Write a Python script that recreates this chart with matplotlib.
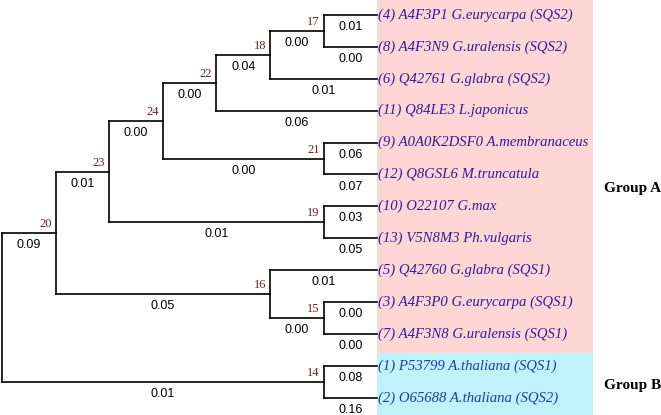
import matplotlib
matplotlib.use("Agg")
import matplotlib.pyplot as plt
from matplotlib.patches import Rectangle

# ---------------- data ----------------
leaf_labels = [
    "(4) A4F3P1 G.eurycarpa (SQS2)",
    "(8) A4F3N9 G.uralensis (SQS2)",
    "(6) Q42761 G.glabra (SQS2)",
    "(11) Q84LE3 L.japonicus",
    "(9) A0A0K2DSF0 A.membranaceus",
    "(12) Q8GSL6 M.truncatula",
    "(10) O22107 G.max",
    "(13) V5N8M3 Ph.vulgaris",
    "(5) Q42760 G.glabra (SQS1)",
    "(3) A4F3P0 G.eurycarpa (SQS1)",
    "(7) A4F3N8 G.uralensis (SQS1)",
    "(1) P53799 A.thaliana (SQS1)",
    "(2) O65688 A.thaliana (SQS2)",
]
leaf_lengths = ["0.01", "0.00", "0.01", "0.06", "0.06", "0.07", "0.03",
                "0.05", "0.01", "0.00", "0.00", "0.08", "0.16"]
leaf_group = ["A"] * 11 + ["B"] * 2

# internal nodes: id -> children (ints = leaf index, strings = node id)
node_ids = ["17", "18", "22", "21", "24", "19", "23", "15", "16", "20", "14", "root"]
node_children = {
    "17": [0, 1],
    "18": ["17", 2],
    "22": ["18", 3],
    "21": [4, 5],
    "24": ["22", "21"],
    "19": [6, 7],
    "23": ["24", "19"],
    "15": [9, 10],
    "16": [8, "15"],
    "20": ["23", "16"],
    "14": [11, 12],
    "root": ["20", "14"],
}
node_lengths = {"17": "0.00", "18": "0.04", "22": "0.00", "21": "0.00",
                "24": "0.00", "19": "0.01", "23": "0.01", "15": "0.00",
                "16": "0.05", "20": "0.09", "14": "0.01"}

groups = ["Group A", "Group B"]
group_colors = {"A": "#FFD6D6", "B": "#BFF2FB"}
label_colors = {"A": "#2B1F9A", "B": "#1F3CAE"}

# ---------------- layout ----------------
height = {}
ypos = {}

def layout(n):
    if isinstance(n, int):
        height[n] = 0
        ypos[n] = float(n)
        return
    for c in node_children[n]:
        layout(c)
    height[n] = 1 + max(height[c] for c in node_children[n])
    ys = [ypos[c] for c in node_children[n]]
    ypos[n] = (min(ys) + max(ys)) / 2

layout("root")
H = height["root"]
xpos = {k: H - v for k, v in height.items()}

# ---------------- figure ----------------
W, Hpx = 661, 415
fig = plt.figure(figsize=(W / 100, Hpx / 100), dpi=100)
ax = fig.add_axes([0, 0, 1, 1])
ax.axis("off")
sx, x0 = 53.6, 2.0
sy, y0 = 31.9, 15.0
ax.set_xlim(-x0 / sx, (W - x0) / sx)
ax.set_ylim((Hpx - y0) / sy, -y0 / sy)

n_leaves = len(leaf_labels)
nA = leaf_group.count("A")
box_right = H + 4.03
# group backgrounds
ax.add_patch(Rectangle((H, -0.5), box_right - H, nA + 0.1,
                       facecolor=group_colors["A"], edgecolor="none", zorder=0))
ax.add_patch(Rectangle((H, nA - 0.4), box_right - H, n_leaves - nA + 0.3,
                       facecolor=group_colors["B"], edgecolor="none", zorder=0))

lw = 1.2
for n in node_ids:
    ch = node_children[n]
    xn = xpos[n]
    ys = [ypos[c] for c in ch]
    ax.plot([xn, xn], [min(ys), max(ys)], color="black", lw=lw,
            solid_capstyle="projecting", zorder=2)
    for c in ch:
        xc, yc = xpos[c], ypos[c]
        ax.plot([xn, xc], [yc, yc], color="black", lw=lw,
                solid_capstyle="projecting", zorder=2)
        blen = leaf_lengths[c] if isinstance(c, int) else node_lengths[c]
        ax.annotate(blen, ((xn + xc) / 2, yc), xytext=(0, -12),
                    textcoords="offset pixels", ha="center", va="center",
                    fontsize=9, family="Liberation Sans", color="black")
        if not isinstance(c, int):
            ax.annotate(c, (xc, yc), xytext=(-4, 9), textcoords="offset pixels",
                        ha="right", va="center", fontsize=9,
                        family="Liberation Serif", color="#7A1E1E")

for i, lab in enumerate(leaf_labels):
    ax.annotate(lab, (xpos[i], ypos[i]), xytext=(1, 0), textcoords="offset pixels",
                ha="left", va="center", fontsize=10.6, style="italic",
                family="Liberation Serif", color=label_colors[leaf_group[i]],
                zorder=3)

# group labels
ax.text(box_right + 0.2, 5.45, groups[0], ha="left", va="center",
        fontsize=11, weight="bold", family="Liberation Serif", color="black")
ax.text(box_right + 0.2, 11.6, groups[1], ha="left", va="center",
        fontsize=11, weight="bold", family="Liberation Serif", color="black")

fig.savefig("out.png", dpi=100, facecolor="white")
